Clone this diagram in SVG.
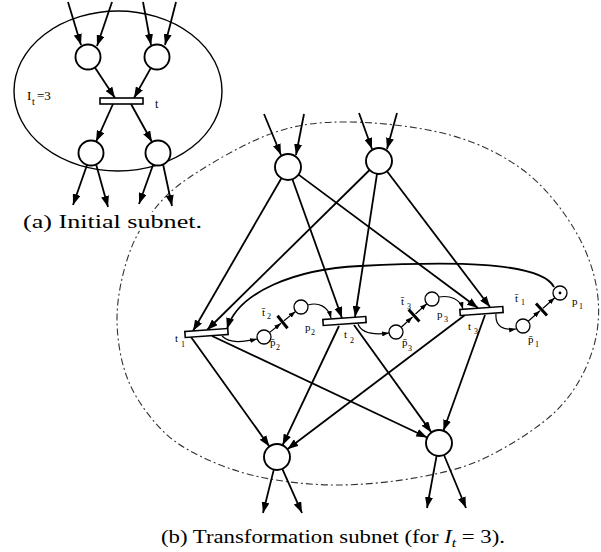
<svg xmlns="http://www.w3.org/2000/svg" width="601" height="552" viewBox="0 0 601 552">
<style>
.pl{fill:#fff;stroke:#000;stroke-width:1.9}
.sp{fill:#fff;stroke:#000;stroke-width:1.3}
.tr{fill:#fff;stroke:#000;stroke-width:1.6}
.bar{stroke:#000;stroke-width:3;stroke-linecap:butt}
.arc{stroke:#000;stroke-width:1.8;fill:none;marker-end:url(#ah)}
.sarc{stroke:#000;stroke-width:1.2;fill:none;marker-end:url(#sh)}
.lab{font-family:"Liberation Serif",serif;font-size:11px;fill:#000}
.sub{font-size:8px}
.cap{font-family:"Liberation Serif",serif;font-size:19px;fill:#000;stroke:#fff;stroke-width:6px;paint-order:stroke;stroke-linejoin:round}
</style>
<defs>
<marker id="ah" markerUnits="userSpaceOnUse" markerWidth="11" markerHeight="8" refX="11" refY="4" orient="auto"><path d="M0,0 L11,4 L0,8 z" fill="#000"/></marker>
<marker id="sh" markerUnits="userSpaceOnUse" markerWidth="7" markerHeight="5" refX="7" refY="2.5" orient="auto"><path d="M0,0 L7,2.5 L0,5 z" fill="#000"/></marker>
</defs>
<rect width="601" height="552" fill="#fff"/>

<!-- boundaries -->
<g id="boundaries">
<ellipse id="subnet-a-boundary" cx="118" cy="91" rx="104" ry="80" fill="none" stroke="#000" stroke-width="1.4"/>
<path id="subnet-b-boundary" fill="none" stroke="#333" stroke-width="1.1" stroke-dasharray="7 3 2 3"
 d="M350,122 C379.5,122.3 421.2,127 450,135 C478.8,143 502.5,154.7 523,170 C543.5,185.3 560.7,207 573,227 C585.3,247 593.8,269.2 597,290 C600.2,310.8 598.7,332 592,352 C585.3,372 574.5,392.5 557,410 C539.5,427.5 509.8,445.8 487,457 C464.2,468.2 445,472.3 420,477 C395,481.7 363.7,485 337,485 C310.3,485 282.8,481.8 260,477 C237.2,472.2 216.7,464.2 200,456 C183.3,447.8 172,440.7 160,428 C148,415.3 135.2,398 128,380 C120.8,362 117.2,340 117,320 C116.8,300 121.5,277.5 127,260 C132.5,242.5 139.5,228.8 150,215 C160.5,201.2 169.5,190.7 190,177 C210.5,163.3 246.3,142.2 273,133 C299.7,123.8 320.5,121.7 350,122 Z"/>
</g>

<!-- connectors -->
<g id="connectors">
<!-- subnet (a) -->
<line class="arc" x1="68" y1="2" x2="81" y2="45"/>
<line class="arc" x1="112" y1="2" x2="97" y2="46"/>
<line class="arc" x1="143" y1="2" x2="151" y2="45"/>
<line class="arc" x1="176" y1="2" x2="165" y2="45"/>
<line class="arc" x1="94.9" y1="67.5" x2="115" y2="98"/>
<line class="arc" x1="150.9" y1="67.9" x2="134" y2="98"/>
<line class="arc" x1="113" y1="104" x2="96.1" y2="141.6"/>
<line class="arc" x1="131" y1="104" x2="152" y2="142"/>
<line class="arc" x1="87" y1="165" x2="73" y2="205"/>
<line class="arc" x1="96" y1="164" x2="108" y2="207"/>
<line class="arc" x1="153" y1="165" x2="139" y2="204"/>
<line class="arc" x1="163" y1="164" x2="172" y2="206"/>

<!-- subnet (b): inputs -->
<line class="arc" x1="264" y1="114" x2="281" y2="155"/>
<line class="arc" x1="304" y1="114" x2="296" y2="155"/>
<line class="arc" x1="359" y1="113" x2="372" y2="149"/>
<line class="arc" x1="397" y1="113" x2="387" y2="149"/>
<!-- top places to transitions -->
<line class="arc" x1="281.4" y1="178.2" x2="193" y2="331"/>
<line class="arc" x1="369.6" y1="170" x2="207" y2="330"/>
<line class="arc" x1="292.4" y1="179.2" x2="342" y2="318"/>
<line class="arc" x1="377" y1="173.9" x2="355" y2="317"/>
<line class="arc" x1="298.5" y1="174.6" x2="478" y2="308"/>
<line class="arc" x1="387" y1="171.3" x2="490" y2="307"/>
<!-- transitions to bottom places -->
<line class="arc" x1="191" y1="337" x2="269.4" y2="446.4"/>
<line class="arc" x1="339" y1="326" x2="282.6" y2="445.2"/>
<line class="arc" x1="465" y1="315" x2="287.4" y2="449.2"/>
<line class="arc" x1="212" y1="336" x2="427.2" y2="437.5"/>
<line class="arc" x1="354" y1="325" x2="431.4" y2="432.4"/>
<line class="arc" x1="485" y1="315" x2="443.4" y2="430.8"/>
<!-- outputs -->
<line class="arc" x1="273.8" y1="469.6" x2="263" y2="513"/>
<line class="arc" x1="282.3" y1="468.9" x2="302" y2="513"/>
<line class="arc" x1="436.6" y1="455.8" x2="427" y2="508"/>
<line class="arc" x1="444" y1="455" x2="466" y2="508"/>
<!-- long arc p1 -> t1 -->
<path class="arc" d="M554,287 C540,260 440,262 360,266 C295,269 238,292 227,329"/>
<!-- small control arcs -->
<path class="sarc" d="M222,336 C230,344 244,342 257,339"/>
<line class="sarc" x1="269.4" y1="332.6" x2="281" y2="323.3"/>
<line class="sarc" x1="284" y1="320.7" x2="295.6" y2="311.4"/>
<path class="sarc" d="M308,305 C318,302 328,306 331,318"/>
<path class="sarc" d="M358,324 C362,334 375,335 389,333"/>
<line class="sarc" x1="401.2" y1="327.3" x2="412.5" y2="317"/>
<line class="sarc" x1="415.5" y1="314" x2="426.8" y2="303.7"/>
<path class="sarc" d="M439,297 C450,295 460,299 463,309"/>
<path class="sarc" d="M496,314 C495,326 503,331 516,329"/>
<line class="sarc" x1="528.2" y1="321.3" x2="540" y2="310.8"/>
<line class="sarc" x1="543" y1="308.2" x2="554.8" y2="297.7"/>
</g>

<!-- subnet (a) nodes -->
<g id="a-p-in1"><circle class="pl" cx="88" cy="57" r="12.5"/></g>
<g id="a-p-in2"><circle class="pl" cx="157" cy="57" r="12.5"/></g>
<g id="a-p-out1"><circle class="pl" cx="91" cy="153" r="12.5"/></g>
<g id="a-p-out2"><circle class="pl" cx="158" cy="153" r="12.5"/></g>
<g id="a-t"><rect class="tr" x="100" y="98" width="43" height="6"/>
<text x="155" y="108" font-family="Liberation Serif,serif" font-size="12">t</text></g>
<g id="a-label"><text x="27" y="100" font-family="Liberation Serif,serif" font-size="13">I<tspan x="32" y="105" font-size="10">t</tspan><tspan x="37" y="100">=3</tspan></text></g>

<!-- subnet (b) nodes -->
<g id="b-p-in1"><circle class="pl" cx="288" cy="167" r="13"/></g>
<g id="b-p-in2"><circle class="pl" cx="379" cy="161" r="13"/></g>
<g id="b-p-out1"><circle class="pl" cx="277" cy="457" r="13"/></g>
<g id="b-p-out2"><circle class="pl" cx="439" cy="443" r="13"/></g>

<g id="b-t1"><rect class="tr" x="185" y="330" width="43" height="6" transform="rotate(-4 206.5 333)"/>
<text class="lab" x="175" y="342">t<tspan class="sub" x="181" y="347">1</tspan></text></g>
<g id="b-t2"><rect class="tr" x="323" y="318" width="43" height="6" transform="rotate(-4 344.5 321)"/>
<text class="lab" x="344" y="338">t<tspan class="sub" x="350" y="343">2</tspan></text></g>
<g id="b-t3"><rect class="tr" x="460" y="308" width="43" height="6" transform="rotate(-4 481.5 311)"/>
<text class="lab" x="468" y="330">t<tspan class="sub" x="474" y="334">3</tspan></text></g>

<g id="b-pbar2"><circle class="sp" cx="264" cy="337" r="7"/>
<text class="lab" x="270" y="346">p&#x304;<tspan class="sub" x="276" y="350">2</tspan></text></g>
<g id="b-p2"><circle class="sp" cx="301" cy="307" r="7"/>
<text class="lab" x="305" y="331">p<tspan class="sub" x="311" y="335">2</tspan></text></g>
<g id="b-tbar2"><line class="bar" x1="277.5" y1="315.8" x2="287.5" y2="328.2"/>
<text class="lab" x="262" y="316">t&#x304;<tspan class="sub" x="267" y="319">2</tspan></text></g>

<g id="b-pbar3"><circle class="sp" cx="396" cy="332" r="7"/>
<text class="lab" x="402" y="346">p&#x304;<tspan class="sub" x="408" y="351">3</tspan></text></g>
<g id="b-p3"><circle class="sp" cx="432" cy="299" r="7"/>
<text class="lab" x="437" y="318">p<tspan class="sub" x="444" y="322">3</tspan></text></g>
<g id="b-tbar3"><line class="bar" x1="408.6" y1="309.6" x2="419.4" y2="321.4"/>
<text class="lab" x="401" y="305">t&#x304;<tspan class="sub" x="407" y="309">3</tspan></text></g>

<g id="b-pbar1"><circle class="sp" cx="523" cy="326" r="7"/>
<text class="lab" x="528" y="343">p&#x304;<tspan class="sub" x="535" y="347">1</tspan></text></g>
<g id="b-p1"><circle class="sp" cx="560" cy="293" r="7"/><circle cx="560" cy="293" r="1.4" fill="#000"/>
<text class="lab" x="572" y="305">p<tspan class="sub" x="579" y="309">1</tspan></text></g>
<g id="b-tbar1"><line class="bar" x1="536" y1="303.5" x2="547" y2="315.5"/>
<text class="lab" x="515" y="302">t&#x304;<tspan class="sub" x="521" y="305">1</tspan></text></g>

<!-- captions -->
<g id="captions">
<text class="cap" x="23" y="228" textLength="179" lengthAdjust="spacingAndGlyphs">(a) Initial subnet.</text>
<text class="cap" x="161" y="543" textLength="344" lengthAdjust="spacingAndGlyphs">(b) Transformation subnet (for <tspan font-style="italic">I</tspan><tspan font-style="italic" font-size="13" dy="4">t</tspan><tspan dy="-4"> = 3).</tspan></text>
</g>
</svg>
